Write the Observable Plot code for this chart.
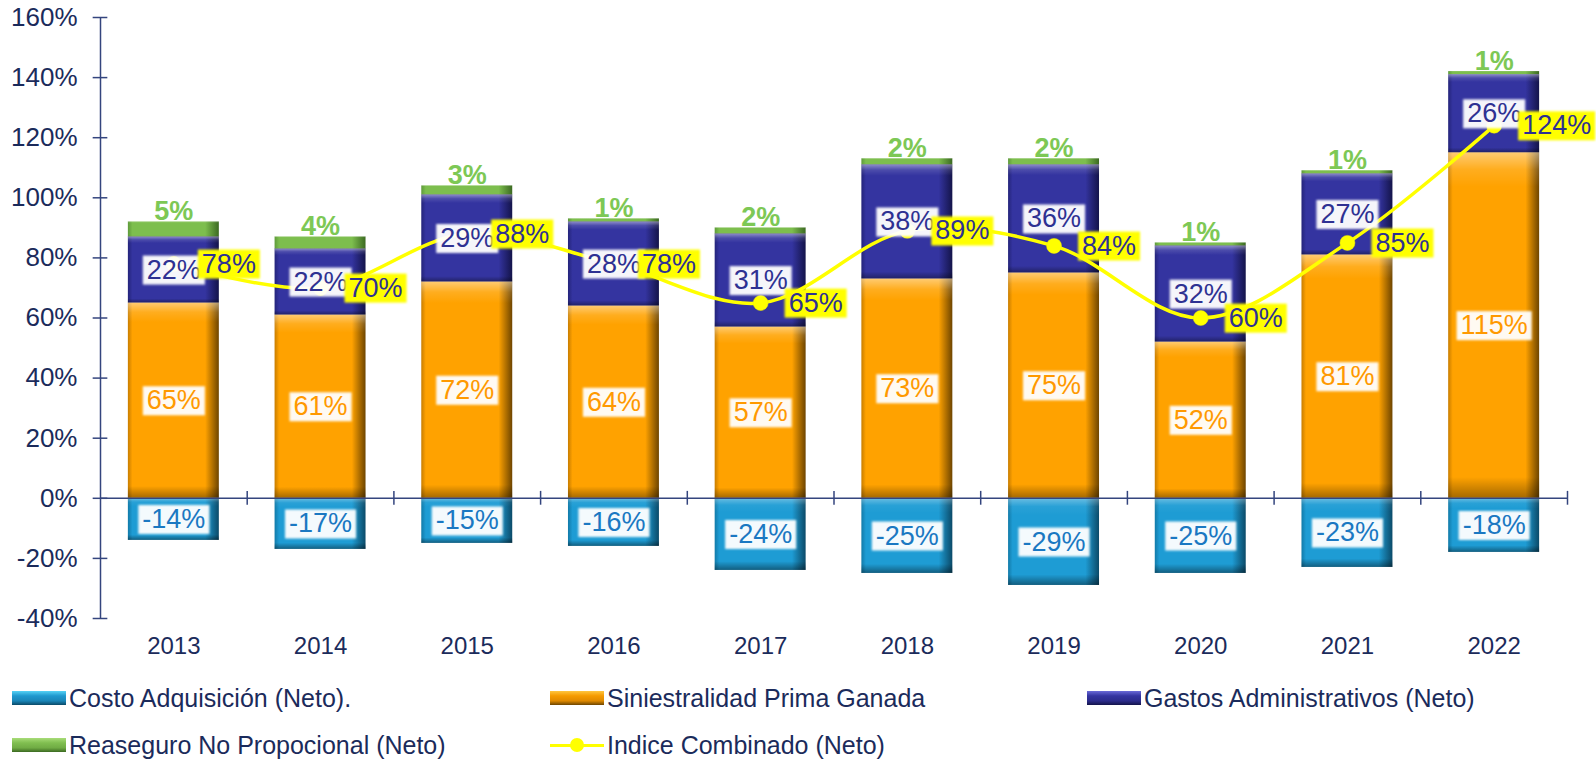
<!DOCTYPE html>
<html><head><meta charset="utf-8">
<script src="https://cdn.jsdelivr.net/npm/d3@7"></script>
<script src="https://cdn.jsdelivr.net/npm/@observablehq/plot@0.6"></script>
<style>
body{margin:0;background:#fff;font-family:"Liberation Sans",Arial,sans-serif;}
#wrap{position:relative;width:1596px;height:760px;overflow:hidden;}
#legend{position:relative;width:1596px;height:95px;}
.item{position:absolute;display:flex;align-items:center;font-size:25px;color:#1B2B5B;height:30px;white-space:nowrap;}
.sw{width:54px;height:14px;margin-right:3px;box-sizing:border-box;}
.lsw{width:54px;height:14px;margin-right:3px;position:relative;}
.lsw:before{content:"";position:absolute;left:0;right:0;top:5.5px;height:3px;background:#FFFF00;}
.lsw:after{content:"";position:absolute;left:20px;top:0;width:14px;height:14px;border-radius:50%;background:#FFFF00;}
</style></head><body>
<div id="wrap"><div id="chart"></div><div id="legend"></div></div>
<script>
// ---- data ----
const years = ["2013","2014","2015","2016","2017","2018","2019","2020","2021","2022"];
const costoAdquisicion = [-14,-17,-15,-16,-24,-25,-29,-25,-23,-18];
const siniestralidad = [65,61,72,64,57,73,75,52,81,115];
const gastosAdministrativos = [22,22,29,28,31,38,36,32,27,26];
const reaseguroNoProp = [5,4,3,1,2,2,2,1,1,1];
const indiceCombinado = [78,70,88,78,65,89,84,60,85,124];
const yTicks = [-40,-20,0,20,40,60,80,100,120,140,160];
const seriesNames = ["Costo Adquisición (Neto).","Siniestralidad Prima Ganada","Gastos Administrativos (Neto)","Reaseguro No Propocional (Neto)","Indice Combinado (Neto)"];

// ---- derived table ----
const idx = years.map((y,i)=>i);
const segs = [];
idx.forEach(i=>{
  const s = siniestralidad[i], g = gastosAdministrativos[i], r = reaseguroNoProp[i];
  segs.push({i, key:"costo", y1:0, y2:costoAdquisicion[i]});
  segs.push({i, key:"sini", y1:0, y2:s});
  segs.push({i, key:"gastos", y1:s, y2:s+g});
  segs.push({i, key:"reas", y1:s+g, y2:s+g+r});
});
const pal = {
  costo:{l:"#127AA8", m:"#1E9CD4", d:"#0B4A68"},
  sini:{l:"#C87D00", m:"#FFA200", d:"#6E4500"},
  gastos:{l:"#24247A", m:"#3434A0", d:"#14144A"},
  reas:{l:"#5E9A3A", m:"#7DBE4E", d:"#3C6A22"}
};
const bx1 = d=>d.i+0.19, bx2 = d=>d.i+0.81;
const barMarks = Object.keys(pal).flatMap(k=>{
  const data = segs.filter(d=>d.key===k);
  return [
    Plot.rectY(data,{x1:bx1,x2:bx2,y1:"y1",y2:"y2",fill:`url(#h-${k})`}),
    Plot.rectY(data,{x1:bx1,x2:bx2,y1:"y1",y2:"y2",fill: k==="costo" ? "url(#v-shade-neg)" : "url(#v-shade)"})
  ];
});
const cx = i=>i+0.5;
const ff = "Liberation Sans, Arial, sans-serif";
const LS = 27;

const chart = Plot.plot({
  width:1596, height:665,
  marginLeft:100, marginRight:29, marginTop:17, marginBottom:47,
  style:{fontFamily:ff, fontSize:"26px", color:"#1B2B5B", background:"white", overflow:"visible"},
  x:{domain:[0,10], axis:null},
  y:{domain:[-40,160], ticks:yTicks, tickFormat:d=>d+"%", tickSize:0, tickPadding:23, label:null},
  marks:[
    ...barMarks,
    Plot.ruleX([0],{y1:-40,y2:160,stroke:"#34457E",strokeWidth:1.5}),
    Plot.ruleY(yTicks,{x1:-0.05,x2:0.05,stroke:"#34457E",strokeWidth:1.5}),
    Plot.ruleY([0],{x1:0,x2:10,stroke:"#34457E",strokeWidth:1.5}),
    Plot.ruleX(d3.range(1,11),{y1:-2.3,y2:2.3,stroke:"#34457E",strokeWidth:1.5}),
    Plot.line(idx,{x:cx,y:i=>indiceCombinado[i],stroke:"#FFFF00",strokeWidth:3.5,curve:"catmull-rom"}),
    Plot.dot(idx,{x:cx,y:i=>indiceCombinado[i],r:7.5,fill:"#FFFF00",stroke:"#EEEE00",strokeWidth:0.5}),
    Plot.text(idx,{x:cx,y:i=>costoAdquisicion[i]/2,text:i=>costoAdquisicion[i]+"%",fill:"#1A78C2",fontSize:LS,ariaDescription:"lbl-white"}),
    Plot.text(idx,{x:cx,y:i=>siniestralidad[i]/2,text:i=>siniestralidad[i]+"%",fill:"#FF9900",fontSize:LS,ariaDescription:"lbl-white"}),
    Plot.text(idx,{x:cx,y:i=>siniestralidad[i]+gastosAdministrativos[i]/2,text:i=>gastosAdministrativos[i]+"%",fill:"#2E3192",fontSize:LS,ariaDescription:"lbl-white"}),
    Plot.text(idx,{x:cx,y:i=>siniestralidad[i]+gastosAdministrativos[i]+reaseguroNoProp[i],text:i=>reaseguroNoProp[i]+"%",fill:"#7DC855",fontSize:LS,fontWeight:"bold",lineAnchor:"bottom",dy:-2}),
    Plot.text(idx,{x:cx,y:i=>indiceCombinado[i],text:i=>indiceCombinado[i]+"%",fill:"#2E3192",fontSize:LS,textAnchor:"start",dx:28,ariaDescription:"lbl-yellow"}),
    Plot.text(idx,{x:cx,y:-40,text:i=>years[i],fill:"#1B2B5B",fontSize:24,dy:28})
  ]
});
document.getElementById("chart").appendChild(chart);

// gradients (styling only)
const svg = chart.tagName.toLowerCase()==="svg" ? chart : chart.querySelector("svg");
const NS = "http://www.w3.org/2000/svg";
const defs = document.createElementNS(NS,"defs");
let html = "";
for (const [k,c] of Object.entries(pal)) {
  html += `<linearGradient id="h-${k}" x1="0" y1="0" x2="1" y2="0">
    <stop offset="0" stop-color="${c.l}"/><stop offset="0.05" stop-color="${c.m}"/>
    <stop offset="0.85" stop-color="${c.m}"/><stop offset="1" stop-color="${c.d}"/></linearGradient>`;
}
html += `<linearGradient id="v-shade" x1="0" y1="0" x2="0" y2="1">
  <stop offset="0" stop-color="#fff" stop-opacity="0.45"/><stop offset="0.05" stop-color="#fff" stop-opacity="0.12"/>
  <stop offset="0.1" stop-color="#fff" stop-opacity="0"/><stop offset="0.94" stop-color="#000" stop-opacity="0"/>
  <stop offset="1" stop-color="#000" stop-opacity="0.35"/></linearGradient>
  <linearGradient id="v-shade-neg" x1="0" y1="0" x2="0" y2="1">
  <stop offset="0" stop-color="#fff" stop-opacity="0.35"/><stop offset="0.1" stop-color="#fff" stop-opacity="0.05"/>
  <stop offset="0.2" stop-color="#fff" stop-opacity="0"/><stop offset="0.88" stop-color="#000" stop-opacity="0"/>
  <stop offset="1" stop-color="#000" stop-opacity="0.4"/></linearGradient>
  <filter id="soft" x="-20%" y="-30%" width="140%" height="160%"><feGaussianBlur stdDeviation="1.2"/></filter>`;
defs.innerHTML = html;
svg.insertBefore(defs, svg.firstChild);

// label boxes behind texts
function boxes(desc, fill, op){
  svg.querySelectorAll(`g[aria-description="${desc}"] text`).forEach(t=>{
    const b = t.getBBox();
    const r = document.createElementNS(NS,"rect");
    r.setAttribute("x", b.x-4); r.setAttribute("y", b.y+1);
    r.setAttribute("width", b.width+8); r.setAttribute("height", b.height-1);
    r.setAttribute("fill", fill); r.setAttribute("fill-opacity", op);
    r.setAttribute("filter","url(#soft)");
    const tr = t.getAttribute("transform"); if (tr) r.setAttribute("transform", tr);
    t.parentNode.insertBefore(r, t);
  });
}
boxes("lbl-white","#FFFFFF",0.95);
boxes("lbl-yellow","#FFFF00",1);

// legend
const leg = document.getElementById("legend");
const grads = {
  costo:"linear-gradient(to bottom,#55D2F5 0%,#1E98CE 35%,#1A86B8 70%,#0B4A68 100%)",
  sini:"linear-gradient(to bottom,#FFC640 0%,#F59A00 35%,#E08A00 70%,#6E4500 100%)",
  gastos:"linear-gradient(to bottom,#6A6AD8 0%,#3434A0 35%,#2C2C8C 70%,#14144A 100%)",
  reas:"linear-gradient(to bottom,#A8DC78 0%,#80BE50 35%,#70AC44 70%,#3C6A22 100%)"
};
const items = [
  {name:seriesNames[0], k:"costo", left:12, top:18},
  {name:seriesNames[1], k:"sini", left:550, top:18},
  {name:seriesNames[2], k:"gastos", left:1087, top:18},
  {name:seriesNames[3], k:"reas", left:12, top:65},
  {name:seriesNames[4], k:"line", left:550, top:65}
];
items.forEach(it=>{
  const d = document.createElement("div");
  d.className = "item"; d.style.left = it.left+"px"; d.style.top = it.top+"px";
  const s = document.createElement("div");
  if (it.k==="line") s.className = "lsw";
  else { s.className = "sw"; s.style.background = grads[it.k]; }
  d.appendChild(s);
  const sp = document.createElement("span"); sp.textContent = it.name; d.appendChild(sp);
  leg.appendChild(d);
});
</script>
</body></html>
